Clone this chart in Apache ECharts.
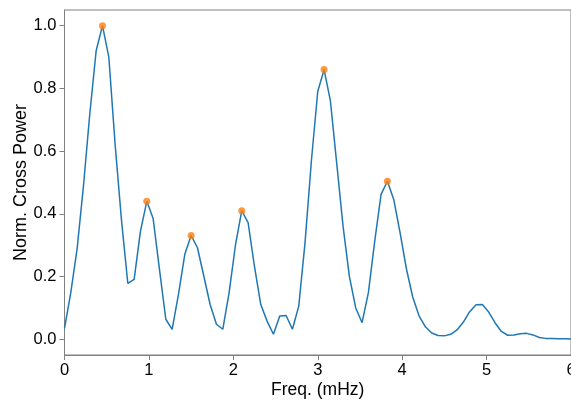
<!DOCTYPE html>
<html>
<head>
<meta charset="utf-8">
<script src="https://cdn.jsdelivr.net/npm/echarts@6/dist/echarts.min.js"></script>
<style>
html,body{margin:0;padding:0;background:#fff;}
#chart{width:571px;height:401px;}
</style>
</head>
<body>
<div id="chart"></div>
<script>
// Frequency grid (mHz)
var freqs = [0,0.075,0.15,0.225,0.3,0.375,0.45,0.525,0.6,0.675,0.75,0.825,0.9,0.975,1.05,1.125,1.2,1.275,1.35,1.425,1.5,1.575,1.65,1.725,1.8,1.875,1.95,2.025,2.1,2.175,2.25,2.325,2.4,2.475,2.55,2.625,2.7,2.775,2.85,2.925,3.0,3.075,3.15,3.225,3.3,3.375,3.45,3.525,3.6,3.675,3.75,3.825,3.9,3.975,4.05,4.125,4.2,4.275,4.35,4.425,4.5,4.575,4.65,4.725,4.8,4.875,4.95,5.025,5.1,5.175,5.25,5.325,5.4,5.475,5.55,5.625,5.7,5.775,5.85,5.925,6.0];
// Normalised cross power
var power = [0.035,0.15,0.29,0.49,0.72,0.92,1.0,0.90,0.62,0.38,0.178,0.191,0.345,0.44,0.385,0.223,0.064,0.032,0.143,0.271,0.331,0.292,0.202,0.111,0.048,0.032,0.149,0.30,0.41,0.372,0.233,0.111,0.058,0.016,0.074,0.076,0.032,0.106,0.31,0.57,0.79,0.86,0.76,0.56,0.36,0.20,0.10,0.053,0.149,0.313,0.462,0.504,0.446,0.34,0.225,0.135,0.075,0.04,0.02,0.012,0.011,0.016,0.03,0.055,0.088,0.110,0.111,0.087,0.053,0.025,0.013,0.014,0.018,0.019,0.014,0.006,0.003,0.003,0.002,0.002,0.001];
// Detected peaks
var peakFreqs = [0.45,0.975,1.5,2.1,3.075,3.825];
var peakPower = [1.0,0.44,0.331,0.41,0.86,0.504];
// Tick values
var xTicks = [0,1,2,3,4,5,6];
var yTicks = [0,0.2,0.4,0.6,0.8,1.0];

var lineData = freqs.map(function(f,i){return [f,power[i]];});
var peakData = peakFreqs.map(function(f,i){return [f,peakPower[i]];});

var FONT = 'Liberation Sans, Arial, Helvetica, sans-serif';
var AX = '#808080';
var chart = echarts.init(document.getElementById('chart'), null, {renderer:'canvas'});
chart.setOption({
  animation:false,
  backgroundColor:'#fff',
  grid:{left:64.5,right:0,top:10,bottom:46,show:true,borderColor:AX,borderWidth:1,
        backgroundColor:'transparent',containLabel:false,outerBoundsMode:'none'},
  xAxis:{
    type:'value',min:0,max:6,
    name:'Freq. (mHz)',nameLocation:'middle',nameGap:26,nameMoveOverlap:false,
    nameTextStyle:{fontFamily:FONT,fontSize:17.5,color:'#000'},
    axisLine:{show:true,onZero:false,lineStyle:{color:AX,width:1}},
    axisTick:{show:true,length:5,inside:false,customValues:xTicks,lineStyle:{color:AX}},
    axisLabel:{customValues:xTicks,fontFamily:FONT,fontSize:16.5,color:'#000',margin:7,showMaxLabel:true,showMinLabel:true},
    splitLine:{show:false}
  },
  yAxis:{
    type:'value',min:-0.05,max:1.05,
    name:'Norm. Cross Power',nameLocation:'middle',nameGap:34,nameRotate:90,nameMoveOverlap:false,
    nameTextStyle:{fontFamily:FONT,fontSize:18,color:'#000'},
    axisLine:{show:true,onZero:false,lineStyle:{color:AX,width:1}},
    axisTick:{show:true,length:5,inside:false,customValues:yTicks,lineStyle:{color:AX}},
    axisLabel:{customValues:yTicks,fontFamily:FONT,fontSize:16.5,color:'#000',margin:8,
      formatter:function(v){return v.toFixed(1);}},
    splitLine:{show:false}
  },
  series:[
    {type:'line',data:lineData,showSymbol:false,symbol:'none',
     lineStyle:{color:'#1f77b4',width:1.5},clip:true,z:2},
    {type:'scatter',data:peakData,symbolSize:7,
     itemStyle:{color:'#ff7f0e'},z:3}
  ]
});
</script>
</body>
</html>
